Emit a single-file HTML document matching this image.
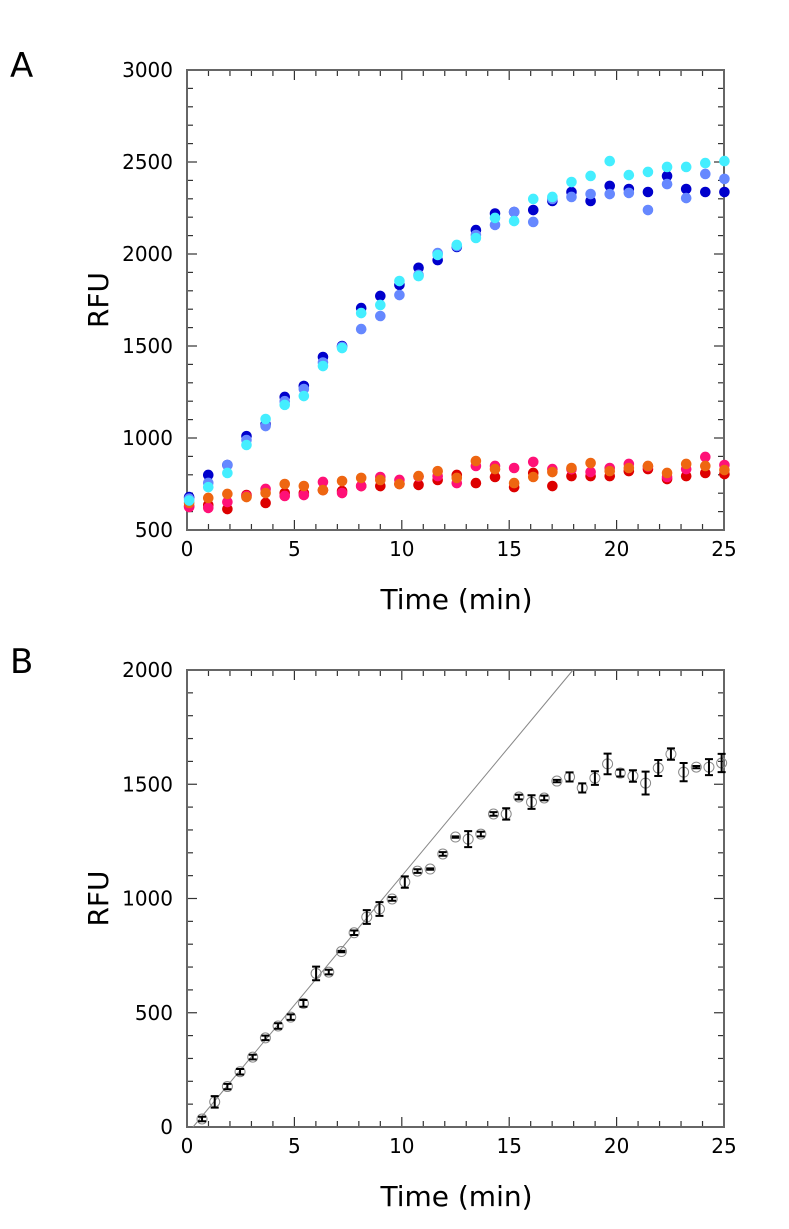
<!DOCTYPE html>
<html><head><meta charset="utf-8"><style>
html,body{margin:0;padding:0;background:#fff;}
svg{display:block;font-family:"DejaVu Sans","Liberation Sans",sans-serif;}
</style></head><body>
<svg id="fig" width="789" height="1229" viewBox="0 0 789 1229" xmlns="http://www.w3.org/2000/svg">
<text x="10" y="77" font-size="34">A</text>
<text x="10" y="673" font-size="34">B</text>
<g id="chartA"></g>
<g id="chartB"></g>
</svg>
<script>
// ---- Panel A data ----
const timeA = Array.from({length:29},(_,i)=>0.1+0.89*i);
const darkBlue = [679,799,853,1010,1075,1223,1283,1440,1500,1706,1772,1832,1925,1967,2038,2130,2220,2228,2239,2288,2337,2288,2370,2353,2337,2424,2353,2337,2337];
const mediumBlue = [670,756,853,989,1065,1200,1266,1410,1495,1592,1663,1777,1886,2005,2043,2103,2158,2228,2174,2299,2310,2326,2326,2332,2239,2380,2304,2435,2408];
const cyanSeries = [660,733,810,962,1103,1180,1228,1391,1489,1679,1723,1853,1880,1995,2049,2087,2196,2179,2299,2310,2391,2424,2505,2429,2446,2473,2473,2494,2505];
const redSeries = [630,636,614,690,647,701,701,717,712,739,739,750,745,772,799,755,788,733,810,739,793,793,793,820,831,777,793,810,804];
const pinkSeries = [625,620,652,685,723,685,690,761,701,739,788,772,790,793,755,848,848,837,870,831,830,815,837,859,845,788,831,897,853];
const orangeSeries = [647,674,696,679,701,750,739,717,766,783,772,750,793,820,783,875,831,755,788,815,837,864,820,837,848,810,859,848,826];
const yTicksA = [500,1000,1500,2000,2500,3000];
const xTicks = [0,5,10,15,20,25];

// ---- Panel B data ----
const timeB = Array.from({length:42},(_,i)=>0.7+0.59*i);
const meanB = [35,110,177,242,306,390,442,481,541,672,678,768,850,919,954,998,1072,1120,1129,1195,1269,1260,1282,1370,1370,1444,1422,1440,1514,1532,1484,1527,1589,1549,1536,1505,1571,1632,1553,1575,1575,1593];
const errB = [10,25,12,12,10,10,12,12,15,30,10,3,10,30,30,8,25,8,3,8,3,35,10,8,25,10,30,10,5,20,20,30,45,15,25,50,35,25,40,5,35,40];
const fitStart = [0.28,0];
const fitEnd = [17.97,2000];
const yTicksB = [0,500,1000,1500,2000];

const NS="http://www.w3.org/2000/svg";
function mk(tag,attrs,parent){const e=document.createElementNS(NS,tag);for(const k in attrs)e.setAttribute(k,attrs[k]);parent.appendChild(e);return e;}

function axes(g,L,R,T,B,ymin,ymax,yTicks,yMinorStep,prefix){
  const sx=t=>L+(t-0)/25*(R-L);
  const sy=v=>B-(v-ymin)/(ymax-ymin)*(B-T);
  for(let t=0;t<=25;t++){
    const len=(t%5===0)?10:6;
    const a=mk('line',{x1:sx(t),x2:sx(t),y1:B,y2:B-len,stroke:'#333','stroke-width':1.2},g);
    
    
    const b=mk('line',{x1:sx(t),x2:sx(t),y1:T,y2:T+len,stroke:'#333','stroke-width':1.2},g);
    
    
  }
  for(let v=ymin;v<=ymax;v+=yMinorStep){
    const major=yTicks.includes(v);const len=major?10:6;
    const a=mk('line',{x1:L,x2:L+len,y1:sy(v),y2:sy(v),stroke:'#333','stroke-width':1.2},g);
    
    
    const b=mk('line',{x1:R,x2:R-len,y1:sy(v),y2:sy(v),stroke:'#333','stroke-width':1.2},g);
    
    
  }
  const fr=mk('rect',{x:L,y:T,width:R-L,height:B-T,fill:'none',stroke:'#666','stroke-width':2},g);
  
  
  xTicks.forEach(t=>{
    const tx=mk('text',{x:sx(t),y:B+26,'font-size':20,'text-anchor':'middle'},g);
    tx.textContent=t;
    
    
  });
  yTicks.forEach(v=>{
    const tx=mk('text',{x:L-14,y:sy(v)+7,'font-size':20,'text-anchor':'end'},g);
    tx.textContent=v;
    
    
  });
  const xt=mk('text',{x:(L+R)/2+1,y:B+79,'font-size':28,'text-anchor':'middle'},g);
  xt.textContent='Time (min)';
  
  
  const yt=mk('text',{x:0,y:0,'font-size':28,'text-anchor':'middle',transform:`translate(108,${(T+B)/2}) rotate(-90)`},g);
  yt.textContent='RFU';
  
  
  return {sx,sy};
}

// Panel A
(function(){
  const g=document.getElementById('chartA');
  const {sx,sy}=axes(g,187,724,70,530,500,3000,yTicksA,100,'a-');
  const series=[[redSeries,'#dd0000','red'],[pinkSeries,'#ff1177','pink'],[orangeSeries,'#ee6611','orange'],[darkBlue,'#0000cc','dark-blue'],[mediumBlue,'#6688ff','medium-blue'],[cyanSeries,'#44eeff','cyan']];
  series.forEach(([vals,col,nm])=>{
    const sg=mk('g',{},g);
    
    
    vals.forEach((v,i)=>{
      const c=mk('circle',{cx:sx(timeA[i]),cy:sy(v),r:5.3,fill:col},sg);
      
      
    });
  });
})();

// Panel B
(function(){
  const g=document.getElementById('chartB');
  const {sx,sy}=axes(g,187,724,670,1127,0,2000,yTicksB,100,'b-');
  const fl=mk('line',{x1:sx(fitStart[0]),y1:sy(fitStart[1]),x2:sx(fitEnd[0]),y2:sy(fitEnd[1]),stroke:'#888','stroke-width':1},g);
  
  
  meanB.forEach((v,i)=>{
    const x=sx(timeB[i]);
    const c=mk('circle',{cx:x,cy:sy(v),r:5,fill:'none',stroke:'#888','stroke-width':1},g);
    
    
    const y1=sy(v+errB[i]),y2=sy(v-errB[i]);
    const e=mk('path',{d:`M${x},${y1}V${y2}M${x-4},${y1}H${x+4}M${x-4},${y2}H${x+4}`,stroke:'#000','stroke-width':2,fill:'none'},g);
    
    
  });
})();
</script>
</body></html>
